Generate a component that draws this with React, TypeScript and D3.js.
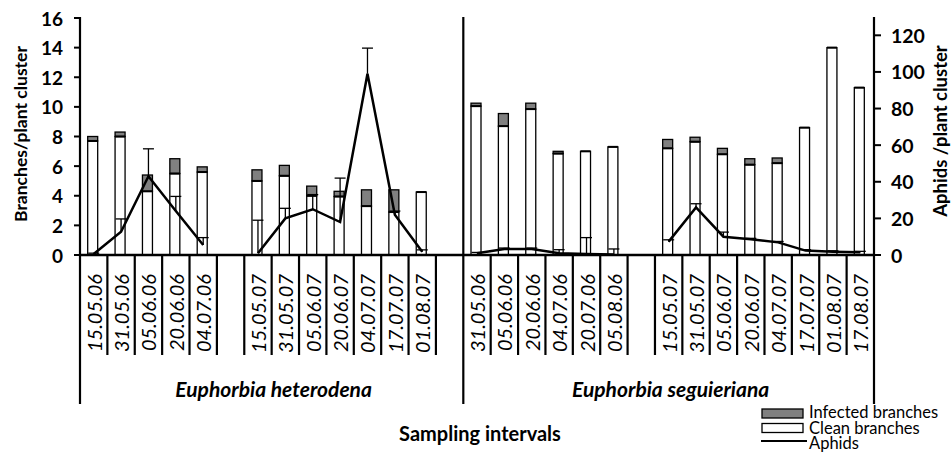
import React from "react";
import * as d3 from "d3";

const slots = [
  "15.05.06", "31.05.06", "05.06.06", "20.06.06", "04.07.06", "",
  "15.05.07", "31.05.07", "05.06.07", "20.06.07", "04.07.07", "17.07.07", "01.08.07", "",
  "31.05.06", "05.06.06", "20.06.06", "04.07.06", "20.07.06", "05.08.06", "",
  "15.05.07", "31.05.07", "05.06.07", "20.06.07", "04.07.07", "17.07.07", "01.08.07", "17.08.07",
];
const clean = [7.7, 8.0, 4.3, 5.5, 5.6, null, 5.0, 5.35, 4.0, 3.95, 3.3, 2.9, 4.25, null,
  10.05, 8.7, 9.85, 6.85, 7.0, 7.3, null, 7.2, 7.65, 6.8, 6.1, 6.2, 8.6, 14.0, 11.3];
const infected = [0.3, 0.3, 1.1, 1.0, 0.35, null, 0.75, 0.7, 0.65, 0.35, 1.1, 1.5, 0, null,
  0.2, 0.85, 0.4, 0.15, 0, 0, null, 0.6, 0.3, 0.4, 0.4, 0.35, 0, 0, 0];
const aphids = [0.5, 12.7, 43, 24, 5.5, null, 1, 20, 25, 18, 99, 22, 1.8, null,
  0.9, 3.3, 3.3, 0.9, 0.5, 0.3, null, 7.3, 26, 10, 8.6, 6.9, 2.4, 1.8, 1.5];
const aphidErr = [0.5, 7, 15, 8, 4, null, 18, 5.5, 8, 24, 14, 2, 1, null,
  0.5, 0.5, 0.5, 2, 9, 3, null, 1, 2, 2.5, 0.5, 0.5, 0.5, 0.5, 0.5];
const leftTicks = [0, 2, 4, 6, 8, 10, 12, 14, 16];
const rightTicks = [0, 20, 40, 60, 80, 100, 120];
const groups = [
  { name: "Euphorbia heterodena", from: 0, to: 14 },
  { name: "Euphorbia seguieriana", from: 14, to: 29 },
];
const legendItems = ["Infected branches", "Clean branches", "Aphids"];

const FONT = "Lato, 'Open Sans', sans-serif";
const GRAY = "#808080";

export default function App() {
  const W = 952, H = 453;
  const x0 = 80, x1 = 874, yBase = 255;
  const x = d3.scaleBand<number>().domain(d3.range(slots.length)).range([x0, x1]).padding(0);
  const yL = d3.scaleLinear().domain([0, 16]).range([yBase, 18]);
  const yR = d3.scaleLinear().domain([0, 130]).range([yBase, 17]);
  const bw = 10;
  const cx = (i: number) => (x(i) as number) + x.bandwidth() / 2;

  const line = d3.line<number | null>()
    .defined((d) => d !== null)
    .x((_, i) => cx(i))
    .y((d) => yR(d as number));

  const boundaries = d3.range(slots.length + 1).map((i) => x0 + i * x.bandwidth());
  const longIdx = new Set([0, 14, 29]);

  return (
    <svg width={W} height={H} style={{ position: "absolute", left: 0, top: 0, background: "#fff" }}
      fontFamily={FONT}>
      {/* bars */}
      {slots.map((s, i) => {
        if (clean[i] === null) return null;
        const c = clean[i] as number;
        const inf = (infected[i] as number) || 0;
        const bx = cx(i) - bw / 2 - 1;
        return (
          <g key={"b" + i}>
            <rect x={bx} y={yL(c)} width={bw} height={yBase - yL(c)} fill="#fff" stroke="#000" strokeWidth={1.3} />
            {inf > 0 && (
              <rect x={bx} y={yL(c + inf)} width={bw} height={yL(c) - yL(c + inf)} fill={GRAY} stroke="#000" strokeWidth={1.3} />
            )}
            <line x1={bx} x2={bx + bw} y1={yL(c)} y2={yL(c)} stroke="#000" strokeWidth={2} />
          </g>
        );
      })}
      {/* error bars */}
      {aphids.map((a, i) => {
        if (a === null) return null;
        const e = aphidErr[i] as number;
        const px = cx(i);
        return (
          <g key={"e" + i} stroke="#000" strokeWidth={1.3}>
            <line x1={px} x2={px} y1={yR(a)} y2={yR(a + e)} />
            <line x1={px - 5.5} x2={px + 5.5} y1={yR(a + e)} y2={yR(a + e)} />
          </g>
        );
      })}
      {/* aphid line */}
      <path d={line(aphids) || ""} fill="none" stroke="#000" strokeWidth={2.5} strokeLinejoin="miter" />

      {/* separators */}
      {boundaries.map((bx, i) => (
        <line key={"s" + i} x1={bx} x2={bx} y1={longIdx.has(i) ? 17 : yBase} y2={longIdx.has(i) ? 404 : 355}
          stroke="#000" strokeWidth={2.2} />
      ))}
      {/* x axis */}
      <line x1={x0} x2={x1} y1={yBase} y2={yBase} stroke="#000" strokeWidth={2.5} />

      {/* left ticks */}
      {leftTicks.map((t) => (
        <g key={"lt" + t}>
          <line x1={x0 - 6} x2={x0} y1={yL(t)} y2={yL(t)} stroke="#000" strokeWidth={2} />
          <text x={63} y={yL(t)} textAnchor="end" dominantBaseline="central" fontWeight="bold" fontSize={19}>{t}</text>
        </g>
      ))}
      {/* right ticks */}
      {rightTicks.map((t) => (
        <g key={"rt" + t}>
          <line x1={x1} x2={x1 + 7} y1={yR(t)} y2={yR(t)} stroke="#000" strokeWidth={2} />
          <text x={891} y={yR(t)} textAnchor="start" dominantBaseline="central" fontWeight="bold" fontSize={19.5}>{t}</text>
        </g>
      ))}

      {/* axis titles */}
      <text transform="translate(27,134) rotate(-90)" textAnchor="middle" fontWeight="bold" fontSize={17.5}>Branches/plant cluster</text>
      <text transform="translate(947,131) rotate(-90)" textAnchor="middle" fontWeight="bold" fontSize={18.5}>Aphids /plant cluster</text>

      {/* date labels */}
      {slots.map((s, i) => s ? (
        <text key={"d" + i} transform={`translate(${cx(i)},274) rotate(-90)`} textAnchor="end"
          dominantBaseline="central" fontStyle="italic" fontSize={20}>{s}</text>
      ) : null)}

      {/* group labels */}
      {groups.map((g) => (
        <text key={g.name} x={(x0 + g.from * x.bandwidth() + x0 + g.to * x.bandwidth()) / 2 + 2} y={397}
          textAnchor="middle" fontWeight="bold" fontStyle="italic" fontSize={21}>{g.name}</text>
      ))}

      <text x={480} y={441} textAnchor="middle" fontWeight="bold" fontSize={20}>Sampling intervals</text>

      {/* legend */}
      <rect x={762} y={409} width={41} height={9} fill={GRAY} stroke="#000" strokeWidth={1.3} />
      <rect x={762} y={423.5} width={41} height={9} fill="#fff" stroke="#000" strokeWidth={1.3} />
      <line x1={761} x2={807} y1={441} y2={441} stroke="#000" strokeWidth={2} />
      {legendItems.map((t, i) => (
        <text key={t} x={809} y={418 + i * 15.7} fontSize={16.5}>{t}</text>
      ))}
    </svg>
  );
}
